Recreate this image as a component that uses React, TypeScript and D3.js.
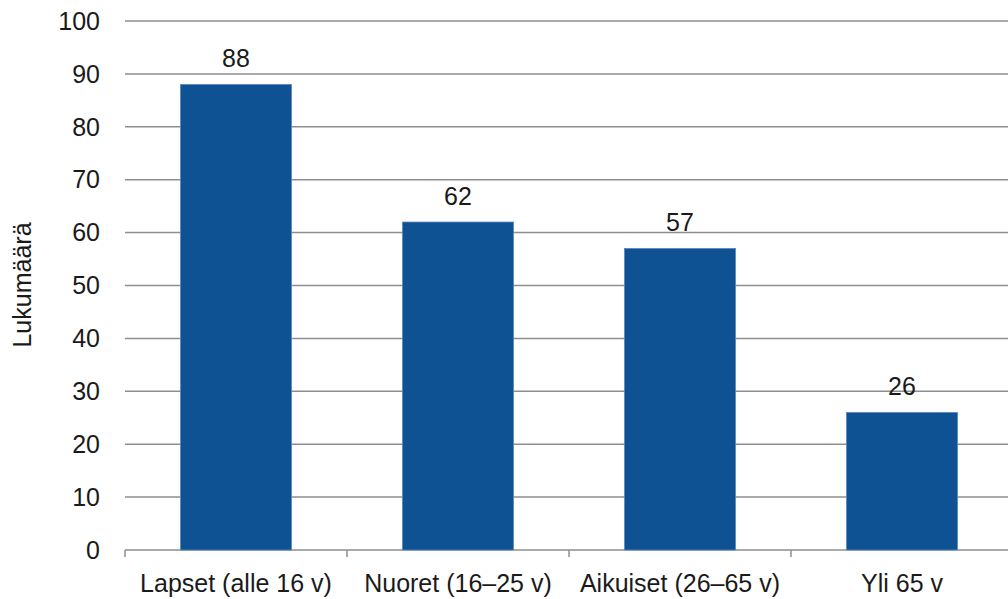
import React from 'react';
import * as d3 from 'd3';

const categories = ['Lapset (alle 16 v)', 'Nuoret (16–25 v)', 'Aikuiset (26–65 v)', 'Yli 65 v'];
const values = [88, 62, 57, 26];
const yTicks = [0, 10, 20, 30, 40, 50, 60, 70, 80, 90, 100];

const W = 1008;
const H = 599;
const FONT = '"Liberation Sans", Arial, sans-serif';
const FS = 25;

const App = () => {
  const left = 125;
  const x = d3.scaleBand<string>().domain(categories).range([left, left + 888]).paddingInner(0.5).paddingOuter(0.25);
  const y = d3.scaleLinear().domain([0, 100]).range([550, 21]);
  const step = x.step();

  return (
    <svg width={W} height={H} style={{ position: 'absolute', left: 0, top: 0, background: '#fff' }} fontFamily={FONT}>
      {yTicks.map((t) => (
        <g key={t}>
          <line x1={left} x2={W} y1={y(t)} y2={y(t)} stroke="#8e8e8e" strokeWidth={1.5} />
          <text x={100} y={y(t)} dy="0.35em" textAnchor="end" fontSize={FS} fill="#1a1a1a">
            {t}
          </text>
        </g>
      ))}
      {categories.map((c, i) => (
        <line key={c} x1={left + i * step} x2={left + i * step} y1={y(0)} y2={y(0) + 7} stroke="#8e8e8e" strokeWidth={1.5} />
      ))}
      {categories.map((c, i) => (
        <g key={c}>
          <rect
            x={x(c)}
            y={y(values[i])}
            width={x.bandwidth()}
            height={y(0) - y(values[i])}
            fill="#0f5294"
            stroke="#5b87b8"
            strokeWidth={0.8}
          />
          <text x={(x(c) || 0) + x.bandwidth() / 2} y={y(values[i]) - 17} textAnchor="middle" fontSize={FS} fill="#1a1a1a">
            {values[i]}
          </text>
          <text x={(x(c) || 0) + x.bandwidth() / 2} y={592} textAnchor="middle" fontSize={FS} fill="#1a1a1a">
            {c}
          </text>
        </g>
      ))}
      <text transform="translate(31,285) rotate(-90)" textAnchor="middle" fontSize={FS} fill="#1a1a1a">
        Lukumäärä
      </text>
    </svg>
  );
};

export default App;
